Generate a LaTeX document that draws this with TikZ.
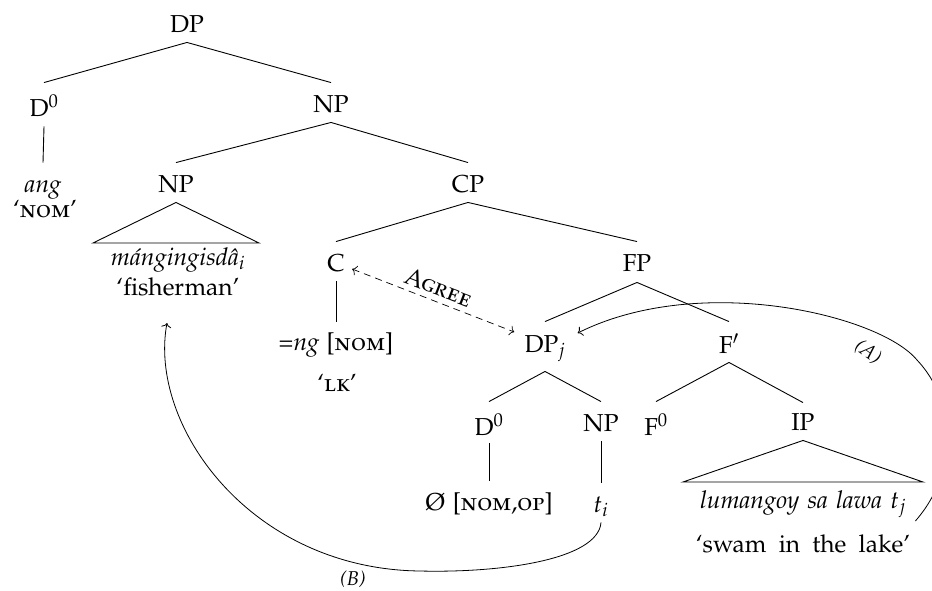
\documentclass[tikz,border=0pt]{standalone}
\usepackage[T1]{fontenc}
\usepackage[sc]{mathpazo}
\usetikzlibrary{calc,arrows.meta}
\begin{document}
\begin{tikzpicture}[x=1pt,y=-1pt,
  font=\fontsize{24.5}{29}\selectfont,
  line width=0.9pt,
  tn/.style={anchor=base,inner sep=0pt,text height=29pt,text depth=10pt},
  lf/.style={anchor=base,inner sep=0pt},
  mv/.style={-{To[length=4.5pt,width=10pt]},line width=0.8pt},
  agree/.style={dash pattern=on 7pt off 5pt,{To[length=4.5pt,width=10pt]}-{To[length=4.5pt,width=10pt]},line width=0.7pt},
  lab/.style={font=\fontsize{20}{24}\selectfont\itshape}]
\useasboundingbox (0,0) rectangle (932,590);
% nodes
\node[tn] (DP) at (187,32) {DP};
\node[tn,text height=33pt] (D0) at (44,116) {D$^0$};
\node[tn] (NP1) at (331,112) {NP};
\node[tn] (ang) at (43,192) {\textit{ang}};
\node[lf] (nom) at (45,217) {`\textsc{nom}'};
\node[tn] (NP2) at (176,192) {NP};
\node[tn] (CP) at (468,192) {CP};
\node[lf] (fish) at (178,265) {\textit{m\'angingisd\^a}$_i$};
\node[lf] (fishgl) at (178,295) {`fisherman'};
\node[tn] (C) at (336,271) {C};
\node[tn,text depth=11pt] (FP) at (637,271) {FP};
\node[tn,text height=28pt] (ng) at (336,350) {=\textit{ng} [\textsc{nom}]};
\node[lf] (lk) at (337,391) {`\textsc{lk}'};
\node[tn,text height=30pt,text depth=19pt] (DPj) at (545,352) {DP$_j$};
\node[tn,text height=31pt,text depth=9pt] (Fbar) at (729,353) {F$'$};
\node[tn,text height=33pt,text depth=8pt] (D0b) at (489,435) {D$^0$};
\node[tn] (NP3) at (601,431) {NP};
\node[tn,text height=33pt] (F0) at (656,435) {F$^0$};
\node[tn,text height=27pt] (IP) at (803,430) {IP};
\node[tn] (empty) at (489,510) {\O{} [\textsc{nom,op}]};
\node[tn] (ti) at (601,512) {$t_i$};
\node[lf] (lum) at (803,508) {\textit{lumangoy\hspace{0.33em}sa\hspace{0.33em}lawa\hspace{0.33em}}$t_j$};
\node[lf] (swam) at (803,552) {`swam\hspace{0.5em}in\hspace{0.5em}the\hspace{0.5em}lake'};
% tree
\draw (DP.south) -- (D0.north);
\draw (DP.south) -- (NP1.north);
\draw (D0.south) -- (ang.north);
\draw (NP1.south) -- (NP2.north);
\draw (NP1.south) -- (CP.north);
\draw (NP2.south) -- ($(fish.base)+(-85,-22)$) -- ($(fish.base)+(81,-22)$) -- cycle;
\draw (CP.south) -- (C.north);
\draw (CP.south) -- (FP.north);
\draw (C.south) -- (ng.north);
\draw (FP.south) -- (DPj.north);
\draw (FP.south) -- (Fbar.north);
\draw (DPj.south) -- (D0b.north);
\draw (DPj.south) -- (NP3.north);
\draw (Fbar.south) -- (F0.north);
\draw (Fbar.south) -- (IP.north);
\draw (D0b.south) -- (empty.north);
\draw (NP3.south) -- (ti.north);
\draw (IP.south) -- ($(lum.base)+(-120,-26)$) -- ($(lum.base)+(120,-26)$) -- cycle;
% agree
\coordinate (ag1) at ($(C.base east)+(7,-2)$);
\coordinate (ag2) at ($(DPj.base west)+(-10,-20)$);
\draw[agree] (ag1) -- node[sloped,above=2pt]{\textsc{Agree}} (ag2);
% (A)
\coordinate (A0) at ($(lum.base east)+(9,13)$);
\coordinate (A1) at (917,360);
\coordinate (A2) at ($(DPj.base east)+(12,-19)$);
\draw[mv] (A0) .. controls (960,470) and (955,400) .. (A1)
   .. controls (880,315) and (700,272) .. (A2);
\node[lab,rotate=-35] (labA) at (868,352) {(A)};
% (B)
\coordinate (B1) at (420,571);
\coordinate (B2) at ($(fishgl.base)+(-11,28)$);
\draw[mv] (ti.south) .. controls (598,560) and (500,573) .. (B1)
   .. controls (250,569) and (148,425) .. (B2);
\node[lab] (labB) at (353,579) {(B)};
\end{tikzpicture}
\end{document}
